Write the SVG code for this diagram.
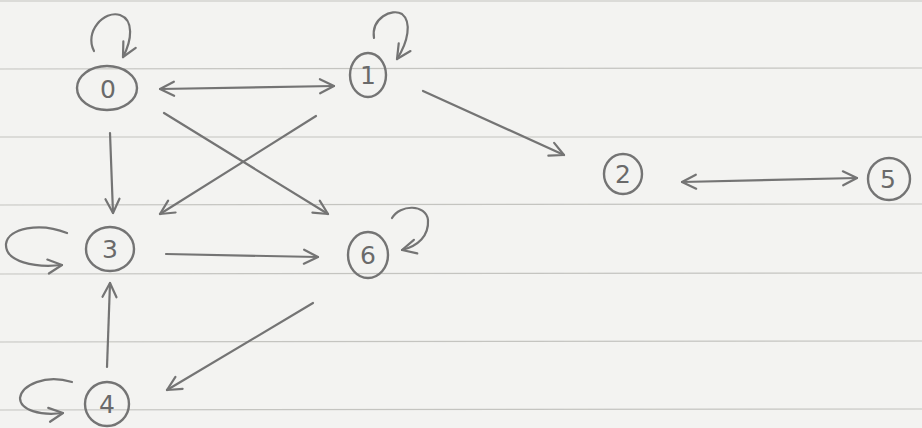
<svg xmlns="http://www.w3.org/2000/svg" width="922" height="428" viewBox="0 0 922 428">
<defs>
<marker id="ah" markerUnits="userSpaceOnUse" markerWidth="20" markerHeight="20" refX="16" refY="8" orient="auto-start-reverse" viewBox="0 0 20 16">
<path d="M2,1 L16,8 L2,15" fill="none" stroke="#747474" stroke-width="2.2" stroke-linecap="round" stroke-linejoin="round"/>
</marker>
</defs>
<style>
.rule{stroke:#c4c4c0;stroke-width:1.2}
.pen{fill:none;stroke:#747474;stroke-width:2.4;stroke-linecap:round}
.e{fill:none;stroke:#747474;stroke-width:2.2;stroke-linecap:round;marker-end:url(#ah)}
.b{marker-start:url(#ah)}
.lbl{font-family:"DejaVu Sans",sans-serif;font-size:25px;fill:#6a6a6a;text-anchor:middle}
</style>
<rect width="922" height="428" fill="#f3f3f1"/>
<g id="paper-lines">
<line class="rule" x1="0" y1="1" x2="922" y2="1"/>
<line class="rule" x1="0" y1="69" x2="922" y2="68"/>
<line class="rule" x1="0" y1="137" x2="922" y2="137"/>
<line class="rule" x1="0" y1="205" x2="922" y2="204"/>
<line class="rule" x1="0" y1="274" x2="922" y2="273"/>
<line class="rule" x1="0" y1="342" x2="922" y2="341"/>
<line class="rule" x1="0" y1="410" x2="922" y2="409"/>
</g>
<g id="connectors">
<line class="e b" x1="160" y1="89" x2="334" y2="86"/>
<line class="e" x1="110" y1="133" x2="113" y2="213"/>
<line class="e" x1="164" y1="113" x2="328" y2="214"/>
<line class="e" x1="316" y1="116" x2="160" y2="214"/>
<line class="e" x1="423" y1="91" x2="564" y2="155"/>
<line class="e b" x1="682" y1="182" x2="857" y2="178"/>
<line class="e" x1="166" y1="254" x2="318" y2="257"/>
<line class="e" x1="313" y1="303" x2="167" y2="390"/>
<line class="e" x1="107" y1="367" x2="110" y2="283"/>
<path class="e" d="M94,51 C84,32 104,10 120,15 C134,20 132,40 123,57"/>
<path class="e" d="M374,38 C371,18 392,8 402,14 C412,22 408,42 397,59"/>
<path class="e" d="M392,218 C400,204 426,204 428,220 C429,236 418,246 402,250"/>
<path class="e" d="M67,233 C40,222 8,228 6,244 C5,262 35,268 62,265"/>
<path class="e" d="M72,382 C45,374 22,385 20,398 C20,410 40,416 63,413"/>
</g>
<g id="node-0">
<ellipse class="pen" cx="107" cy="88" rx="30" ry="22"/>
<text class="lbl" x="108" y="98">0</text>
</g>
<g id="node-1">
<ellipse class="pen" cx="368" cy="75" rx="18" ry="22"/>
<text class="lbl" x="368" y="84">1</text>
</g>
<g id="node-2">
<ellipse class="pen" cx="623" cy="174" rx="19" ry="20"/>
<text class="lbl" x="623" y="183">2</text>
</g>
<g id="node-5">
<ellipse class="pen" cx="889" cy="179" rx="21" ry="21"/>
<text class="lbl" x="888" y="188">5</text>
</g>
<g id="node-3">
<ellipse class="pen" cx="110" cy="249" rx="24" ry="22"/>
<text class="lbl" x="110" y="258">3</text>
</g>
<g id="node-6">
<ellipse class="pen" cx="368" cy="255" rx="20" ry="23"/>
<text class="lbl" x="368" y="264">6</text>
</g>
<g id="node-4">
<ellipse class="pen" cx="107" cy="404" rx="22" ry="22"/>
<text class="lbl" x="107" y="413">4</text>
</g>
</svg>
